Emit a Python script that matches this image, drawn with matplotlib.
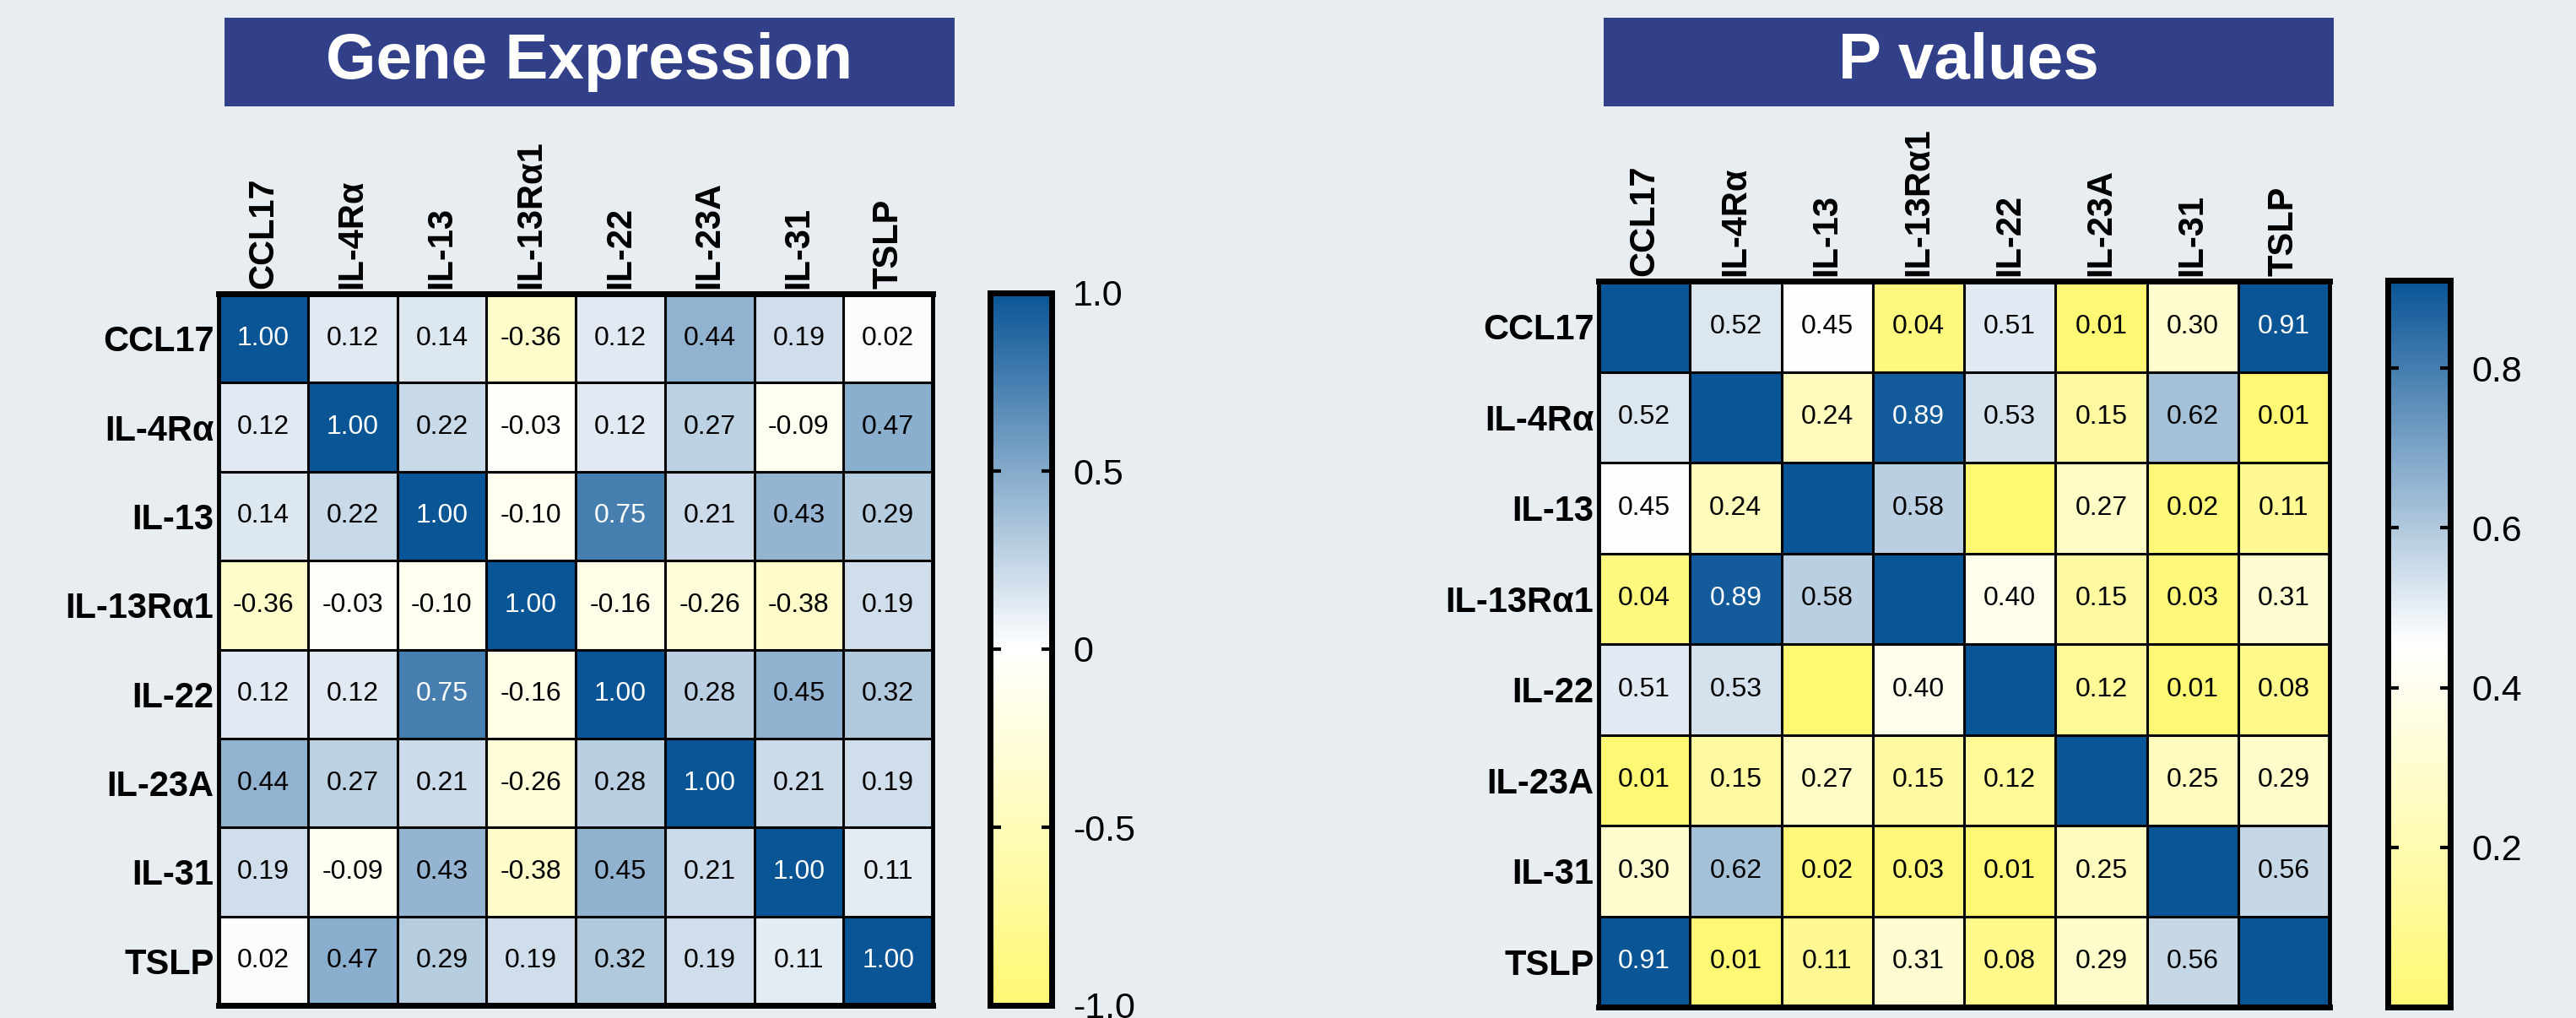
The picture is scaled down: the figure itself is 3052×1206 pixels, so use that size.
import numpy as np
import matplotlib
matplotlib.use("Agg")
import matplotlib.pyplot as plt
from matplotlib.colors import LinearSegmentedColormap
from matplotlib.ticker import FixedLocator, FixedFormatter

plt.rcParams['axes.unicode_minus'] = False

genes = ["CCL17", "IL-4Rα", "IL-13", "IL-13Rα1", "IL-22", "IL-23A", "IL-31", "TSLP"]

corr_CCL17 = [1.00, 0.12, 0.14, -0.36, 0.12, 0.44, 0.19, 0.02]
corr_IL4Ra = [0.12, 1.00, 0.22, -0.03, 0.12, 0.27, -0.09, 0.47]
corr_IL13 = [0.14, 0.22, 1.00, -0.10, 0.75, 0.21, 0.43, 0.29]
corr_IL13Ra1 = [-0.36, -0.03, -0.10, 1.00, -0.16, -0.26, -0.38, 0.19]
corr_IL22 = [0.12, 0.12, 0.75, -0.16, 1.00, 0.28, 0.45, 0.32]
corr_IL23A = [0.44, 0.27, 0.21, -0.26, 0.28, 1.00, 0.21, 0.19]
corr_IL31 = [0.19, -0.09, 0.43, -0.38, 0.45, 0.21, 1.00, 0.11]
corr_TSLP = [0.02, 0.47, 0.29, 0.19, 0.32, 0.19, 0.11, 1.00]

nan = np.nan
p_CCL17 = [nan, 0.52, 0.45, 0.04, 0.51, 0.01, 0.30, 0.91]
p_IL4Ra = [0.52, nan, 0.24, 0.89, 0.53, 0.15, 0.62, 0.01]
p_IL13 = [0.45, 0.24, nan, 0.58, 0.00, 0.27, 0.02, 0.11]
p_IL13Ra1 = [0.04, 0.89, 0.58, nan, 0.40, 0.15, 0.03, 0.31]
p_IL22 = [0.51, 0.53, 0.00, 0.40, nan, 0.12, 0.01, 0.08]
p_IL23A = [0.01, 0.15, 0.27, 0.15, 0.12, nan, 0.25, 0.29]
p_IL31 = [0.30, 0.62, 0.02, 0.03, 0.01, 0.25, nan, 0.56]
p_TSLP = [0.91, 0.01, 0.11, 0.31, 0.08, 0.29, 0.56, nan]

corr_ticks = [-1.0, -0.5, 0.0, 0.5, 1.0]
corr_ticklabels = ["-1.0", "-0.5", "0", "0.5", "1.0"]
p_ticks = [0.2, 0.4, 0.6, 0.8]
p_ticklabels = ["0.2", "0.4", "0.6", "0.8"]

corr = np.array([corr_CCL17, corr_IL4Ra, corr_IL13, corr_IL13Ra1,
                 corr_IL22, corr_IL23A, corr_IL31, corr_TSLP])
pv = np.array([p_CCL17, p_IL4Ra, p_IL13, p_IL13Ra1,
               p_IL22, p_IL23A, p_IL31, p_TSLP])

BG = "#E8EDF2"
BOX = "#32408A"
DARK = "#0A5596"
YEL = "#FFF873"
cmap = LinearSegmentedColormap.from_list("yb", [YEL, "#FFFFFF", DARK])
cmap.set_bad(DARK)

NARROW_B = dict(family=["Liberation Sans Narrow", "Liberation Sans", "DejaVu Sans"], weight="bold")
NARROW = dict(family=["Liberation Sans Narrow", "Liberation Sans", "DejaVu Sans"])
ARIAL = dict(family=["Liberation Sans", "DejaVu Sans"])
ARIAL_B = dict(family=["Liberation Sans", "DejaVu Sans"], weight="bold")

W, H = 3052, 1206
fig = plt.figure(figsize=(W / 100, H / 100), dpi=100, facecolor=BG)


def rect(x0, y0, x1, y1):
    return [x0 / W, 1 - y1 / H, (x1 - x0) / W, (y1 - y0) / H]


def panel(data, vmin, vmax, hm_box, cb_box, title_box, title, ticks, ticklabels, show_small):
    ax = fig.add_axes(rect(*hm_box))
    im = ax.imshow(np.ma.masked_invalid(data), cmap=cmap, vmin=vmin, vmax=vmax,
                   aspect="auto", interpolation="nearest")
    n = len(genes)
    for k in range(1, n):
        ax.axhline(k - 0.5, color="black", lw=2.2)
        ax.axvline(k - 0.5, color="black", lw=2.2)
    for i in range(n):
        for j in range(n):
            v = data[i, j]
            if np.isnan(v):
                continue
            if not show_small and v < 0.005:
                continue
            norm = (v - vmin) / (vmax - vmin)
            col = "white" if norm > 0.8 else "black"
            ax.text(j, i, f"{v:.2f}", ha="center", va="center", fontsize=23,
                    color=col, **NARROW)
    ax.set_xticks(range(n))
    ax.set_yticks(range(n))
    ax.xaxis.tick_top()
    ax.set_xticklabels(genes, rotation=90, ha="center", va="bottom", fontsize=30, **ARIAL_B)
    ax.set_yticklabels(genes, fontsize=30, **NARROW_B)
    ax.tick_params(length=0, pad=4)
    for s in ax.spines.values():
        s.set_linewidth(3.5)
    ax.spines["top"].set_linewidth(5)
    ax.spines["bottom"].set_linewidth(5)

    cax = fig.add_axes(rect(*cb_box))
    cb = fig.colorbar(im, cax=cax)
    cb.outline.set_linewidth(5)
    cax.yaxis.set_major_locator(FixedLocator(ticks))
    cax.yaxis.set_major_formatter(FixedFormatter(ticklabels))
    cax.tick_params(axis="y", which="major", direction="in", left=True, right=True,
                    length=9, width=3, labelsize=31, pad=18)
    cax.tick_params(axis="y", which="minor", left=False, right=False)
    for lab in cax.get_yticklabels():
        lab.set_fontfamily(ARIAL["family"])

    tax = fig.add_axes(rect(*title_box))
    tax.set_facecolor(BOX)
    tax.set_xticks([])
    tax.set_yticks([])
    for s in tax.spines.values():
        s.set_visible(False)
    tax.text(0.5, 0.5, title, ha="center", va="center", color="white",
             fontsize=55, transform=tax.transAxes, **NARROW_B)


panel(corr, -1.0, 1.0, (259, 348, 1105, 1191), (1173, 347, 1246, 1191),
      (266, 21, 1131, 126), "Gene Expression", corr_ticks, corr_ticklabels, True)
panel(pv, 0.0, 0.91, (1894, 333, 2760, 1193), (2829, 332, 2903, 1193),
      (1900, 21, 2765, 126), "P values", p_ticks, p_ticklabels, False)

fig.savefig("out.png", dpi=100, facecolor=BG)
